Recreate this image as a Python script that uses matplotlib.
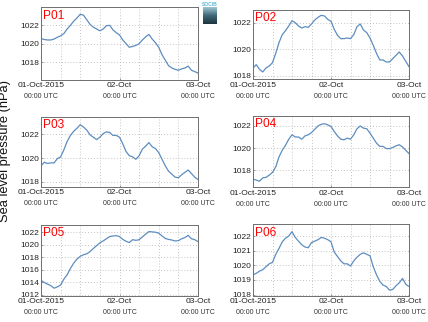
import numpy as np
import pandas as pd
import matplotlib
matplotlib.use("Agg")
import matplotlib.pyplot as plt
import matplotlib.dates as mdates

plt.rcParams['font.family'] = ['Liberation Sans', 'DejaVu Sans']

# Hourly sea level pressure (hPa), 01-Oct-2015 00:00 to 03-Oct-2015 00:00 UTC
times = pd.date_range('2015-10-01 00:00', '2015-10-03 00:00', freq='h')

stations = ['P01', 'P02', 'P03', 'P04', 'P05', 'P06']

p01 = [1020.55, 1020.45, 1020.4, 1020.4, 1020.5, 1020.7, 1020.85, 1021.1, 1021.6, 1022.0,
       1022.45, 1022.8, 1023.2, 1023.1, 1022.6, 1022.1, 1021.8, 1021.6, 1021.4, 1021.6,
       1021.95, 1022.0, 1021.5, 1021.2, 1020.95, 1020.4, 1020.0, 1019.6, 1019.7, 1019.8,
       1020.0, 1020.4, 1020.75, 1021.0, 1020.5, 1020.1, 1019.6, 1018.8, 1018.2, 1017.6,
       1017.35, 1017.2, 1017.1, 1017.25, 1017.35, 1017.55, 1017.1, 1016.95, 1016.8]

p02 = [1018.6, 1018.85, 1018.5, 1018.3, 1018.6, 1018.75, 1019.0, 1019.7, 1020.5, 1021.1,
       1021.4, 1021.75, 1022.15, 1022.0, 1021.75, 1021.6, 1021.7, 1021.65, 1021.9, 1022.2,
       1022.4, 1022.55, 1022.5, 1022.25, 1022.1, 1021.5, 1021.05, 1020.8, 1020.8, 1020.85,
       1020.8, 1021.1, 1021.7, 1021.9, 1021.45, 1021.25, 1020.85, 1020.3, 1019.7, 1019.2,
       1019.2, 1019.05, 1019.05, 1019.3, 1019.55, 1019.8, 1019.5, 1019.1, 1018.7]

p03 = [1019.35, 1019.65, 1019.55, 1019.6, 1019.6, 1019.95, 1020.1, 1020.7, 1021.4, 1021.9,
       1022.25, 1022.5, 1022.8, 1022.6, 1022.35, 1021.95, 1021.75, 1021.55, 1021.75, 1022.05,
       1022.2, 1022.15, 1021.9, 1021.9, 1021.75, 1021.2, 1020.55, 1020.2, 1020.1, 1019.9,
       1020.2, 1020.75, 1021.0, 1021.3, 1020.95, 1020.8, 1020.45, 1019.9, 1019.35, 1018.9,
       1018.65, 1018.4, 1018.35, 1018.6, 1018.8, 1019.0, 1018.7, 1018.4, 1018.2]

p04 = [1017.2, 1017.1, 1017.0, 1017.3, 1017.35, 1017.55, 1017.8, 1018.3, 1019.2, 1019.8,
       1020.25, 1020.8, 1021.2, 1021.0, 1021.0, 1020.8, 1021.1, 1021.2, 1021.4, 1021.7,
       1022.0, 1022.15, 1022.2, 1022.1, 1021.95, 1021.5, 1021.1, 1020.8, 1020.75, 1020.9,
       1020.8, 1021.2, 1021.75, 1022.0, 1021.8, 1021.75, 1021.35, 1020.9, 1020.45, 1020.15,
       1020.15, 1019.95, 1019.95, 1020.05, 1020.2, 1020.3, 1020.1, 1019.8, 1019.5]

p05 = [1014.3, 1013.95, 1013.7, 1013.45, 1013.05, 1013.25, 1013.55, 1014.5, 1015.2, 1016.2,
       1017.05, 1017.7, 1018.15, 1018.4, 1018.55, 1018.9, 1019.4, 1019.85, 1020.3, 1020.6,
       1020.95, 1021.3, 1021.4, 1021.45, 1021.3, 1020.85, 1020.55, 1020.35, 1020.8, 1020.7,
       1020.8, 1021.25, 1021.7, 1022.1, 1022.05, 1022.0, 1021.85, 1021.4, 1021.0, 1020.85,
       1020.75, 1020.6, 1020.65, 1020.95, 1021.15, 1021.5, 1020.95, 1020.8, 1020.5]

p06 = [1019.35, 1019.45, 1019.6, 1019.7, 1019.9, 1020.1, 1020.2, 1020.75, 1021.15, 1021.6,
       1021.85, 1022.0, 1022.3, 1021.9, 1021.65, 1021.4, 1021.25, 1021.2, 1021.55, 1021.65,
       1021.75, 1021.9, 1021.85, 1021.75, 1021.6, 1020.9, 1020.6, 1020.3, 1020.1, 1020.1,
       1019.95, 1020.3, 1020.55, 1020.75, 1020.85, 1020.75, 1020.65, 1019.9, 1019.35, 1018.9,
       1018.65, 1018.55, 1018.3, 1018.35, 1018.6, 1018.8, 1019.1, 1018.7, 1018.55]

series = [p01, p02, p03, p04, p05, p06]

y_limits = [(1016.04, 1023.96), (1017.75, 1022.95), (1017.6, 1023.47),
            (1016.45, 1022.9), (1011.8, 1023.2), (1017.9, 1022.8)]
y_ticks = [[1018, 1020, 1022], [1018, 1020, 1022], [1018, 1020, 1022],
           [1018, 1020, 1022], [1012, 1014, 1016, 1018, 1020, 1022],
           [1018, 1019, 1020, 1021, 1022]]

tick_dates = ['2015-10-01', '2015-10-02', '2015-10-03']
date_labels = ['01-Oct-2015', '02-Oct', '03-Oct']
time_label = '00:00 UTC'
y_label = 'Sea level pressure (hPa)'

W, H = 428, 322
fig = plt.figure(figsize=(W / 100, H / 100), dpi=100)

# panel boxes in pixels: left, top, right, bottom
boxes = [(41, 7.3, 198, 80), (253, 10, 409, 79.3),
         (41, 116.7, 198, 186.7), (253, 116, 409, 187.3),
         (41, 224.7, 198, 296), (253, 224.3, 409, 296)]

line_color = '#5d8dbf'
frame_color = '#6e6e6e'
text_color = '#222222'

for name, vals, (l, t, r, b), ylim, yt in zip(stations, series, boxes, y_limits, y_ticks):
    ax = fig.add_axes([l / W, 1 - b / H, (r - l) / W, (b - t) / H])
    ax.plot(times, vals, color=line_color, lw=0.9)
    ax.set_xlim(times[0], times[-1])
    ax.set_ylim(*ylim)
    ax.set_yticks(yt)
    ax.set_yticklabels([str(v) for v in yt])
    tick_pos = pd.to_datetime(tick_dates)
    ax.set_xticks(tick_pos)
    ax.set_xticklabels(date_labels)
    ax.xaxis.set_minor_locator(mdates.HourLocator(byhour=[0, 6, 12, 18]))
    ax.grid(True, which='both', axis='x', color='#b0b0b0', ls=(0, (1, 2.5)), lw=0.6)
    ax.grid(True, which='major', axis='y', color='#b0b0b0', ls=(0, (1, 2.5)), lw=0.6)
    ax.tick_params(axis='both', which='both', direction='in', length=1.5,
                   color=frame_color, labelsize=6, labelcolor=text_color, width=0.5)
    ax.tick_params(axis='x', which='minor', length=0)
    ax.tick_params(axis='x', pad=1.6)
    ax.tick_params(axis='y', pad=1.5)
    for sp in ax.spines.values():
        sp.set_color(frame_color)
        sp.set_linewidth(0.7)
    for tp in tick_pos:
        ax.annotate(time_label, xy=(mdates.date2num(tp), 0),
                    xycoords=('data', 'axes fraction'), xytext=(0, -12.2),
                    textcoords='offset points', ha='center', va='center',
                    fontsize=5, color='#333333', annotation_clip=False)
    ax.annotate(name, xy=(0, 1), xycoords='axes fraction', xytext=(1.3, -1.6),
                textcoords='offset points', ha='left', va='top',
                fontsize=8.6, color='#ff0000')

fig.text(5.5 / W, 1 - 151 / H, y_label, rotation=90, ha='center', va='center',
         fontsize=9.3, color='#111111')

# small SOCIB badge between the top panels
badge = fig.add_axes([203 / W, 1 - 24 / H, 13 / W, 17 / H])
grad = np.linspace(0, 1, 32).reshape(-1, 1)
badge.imshow(grad, aspect='auto', cmap=matplotlib.colors.LinearSegmentedColormap.from_list(
    'badge', ['#9fc3cf', '#3f6878', '#1f3540']), extent=(0, 1, 0, 1))
badge.set_axis_off()
fig.text(209.5 / W, 1 - 4.8 / H, 'SOCIB', ha='center', va='center', fontsize=3.6,
         color='#5fb8d8', fontweight='bold')

fig.savefig('out.png', dpi=100)
